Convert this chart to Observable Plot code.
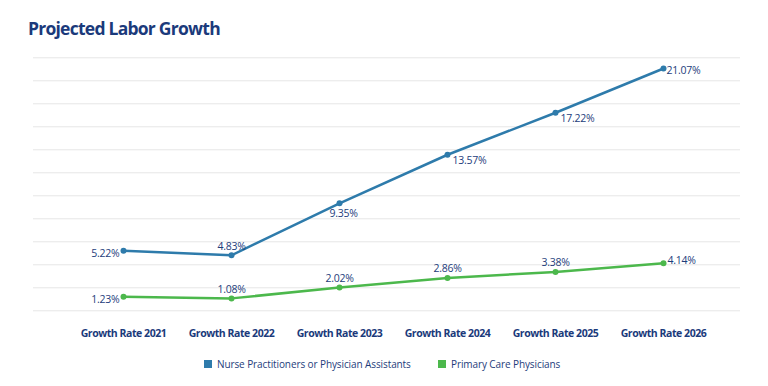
<!DOCTYPE html>
<html><head><meta charset="utf-8">
<script src="https://cdn.jsdelivr.net/npm/d3@7"></script>
<script src="https://cdn.jsdelivr.net/npm/@observablehq/plot@0.6"></script>
<style>
body{margin:0;background:#fff;font-family:"Open Sans",sans-serif;width:768px;height:386px;overflow:hidden;position:relative}
#title{height:44px;box-sizing:border-box;padding:17.5px 0 0 28px;font-size:17.5px;letter-spacing:-0.75px;font-weight:700;color:#1b3a7b;line-height:20px}
#chart svg{display:block}
#chart svg g[aria-label="x-axis tick label"] text{letter-spacing:-0.45px}
#chart svg g[aria-label="text"] text{letter-spacing:-0.25px}
.lg{position:absolute;top:357px;display:flex;align-items:center;font-size:10px;letter-spacing:-0.1px;color:#1e3d7b;line-height:14px;white-space:nowrap}
.sw{width:8px;height:8px;margin-right:5px;display:inline-block}
</style></head>
<body>
<div id="title">Projected Labor Growth</div>
<div id="chart"></div>
<div id="legend"></div>
<script>
const categories = ["Growth Rate 2021","Growth Rate 2022","Growth Rate 2023","Growth Rate 2024","Growth Rate 2025","Growth Rate 2026"];
const npaValues = [5.22, 4.83, 9.35, 13.57, 17.22, 21.07];
const pcpValues = [1.23, 1.08, 2.02, 2.86, 3.38, 4.14];
const seriesNames = ["Nurse Practitioners or Physician Assistants", "Primary Care Physicians"];
const yTicks = [0, 2, 4, 6, 8, 10, 12, 14, 16, 18, 20, 22];
const npaLabelPlacement = ["left","above","below","belowRight","belowRight","right"];
const pcpLabelPlacement = ["left","above","above","above","above","rightUp"];

const colors = ["#2e7bab", "#4cb84c"];
const textColor = "#1e3d7b";
const place = {
  left: {textAnchor: "end", dx: -4, dy: 2.5},
  above: {textAnchor: "middle", dx: 0, dy: -9},
  below: {textAnchor: "middle", dx: 4, dy: 10},
  belowRight: {textAnchor: "start", dx: 5, dy: 6},
  right: {textAnchor: "start", dx: 3, dy: 2},
  rightUp: {textAnchor: "start", dx: 4, dy: -3}
};

const rows = categories.map((c, i) => ({c, v: npaValues[i], s: 0, p: npaLabelPlacement[i]}))
  .concat(categories.map((c, i) => ({c, v: pcpValues[i], s: 1, p: pcpLabelPlacement[i]})));
const fmt = v => v.toFixed(2) + "%";

const labelMarks = Object.entries(place).map(([k, o]) =>
  Plot.text(rows.filter(d => d.p === k), {x: "c", y: "v", text: d => fmt(d.v), ...o, fill: textColor, fontSize: 10.5}));

const chart = Plot.plot({
  width: 768, height: 300,
  marginTop: 13.3, marginBottom: 33.7, marginLeft: 33, marginRight: 28,
  style: {fontFamily: "Open Sans", color: textColor, background: "#fff"},
  x: {type: "point", domain: categories, range: [121, 664.3], padding: 0, label: null},
  y: {domain: [0, 22], axis: null, label: null},
  marks: [
    Plot.ruleY(yTicks, {stroke: "#e6e6e6", strokeWidth: 1}),
    Plot.axisX({tickSize: 0, tickPadding: 19, fontSize: 10.5, fontWeight: "bold", fill: "#1b3a7b", label: null}),
    Plot.line(rows, {x: "c", y: "v", z: "s", stroke: d => colors[d.s], strokeWidth: 2.5}),
    Plot.dot(rows, {x: "c", y: "v", r: 3, fill: d => colors[d.s]}),
    ...labelMarks
  ]
});
document.getElementById("chart").appendChild(chart);

const lefts = [204, 438];
const legend = document.getElementById("legend");
seriesNames.forEach((n, i) => {
  const el = document.createElement("div");
  el.className = "lg";
  el.style.left = lefts[i] + "px";
  el.innerHTML = `<span class="sw" style="background:${colors[i]}"></span><span>${n}</span>`;
  legend.appendChild(el);
});
</script>
</body></html>
